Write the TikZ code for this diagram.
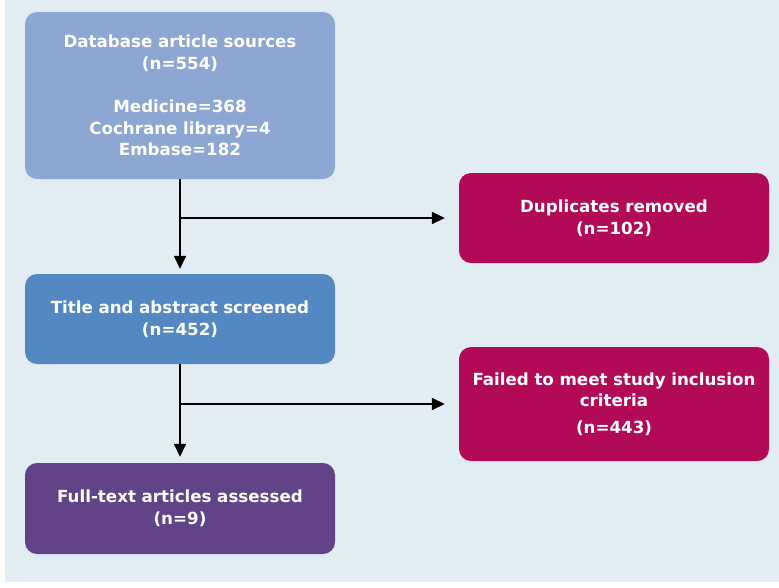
\documentclass[tikz,border=0pt]{standalone}
\usepackage{fontspec}
\setmainfont{DejaVu Sans}
\usetikzlibrary{arrows.meta}
\definecolor{bgc}{HTML}{E1ECF3}
\definecolor{boxa}{HTML}{8BA7D2}
\definecolor{boxb}{HTML}{5388C3}
\definecolor{boxc}{HTML}{634388}
\definecolor{boxr}{HTML}{B20A56}
\tikzset{
  flowbox/.style={rounded corners=12pt, minimum width=310pt, text width=300pt, align=center,
    text=white, font=\fontsize{16.7pt}{21.6pt}\selectfont\bfseries, inner sep=0pt},
  arr/.style={draw=black, line width=1.5pt, -{Triangle[length=13pt,width=12pt]}}
}
\begin{document}
\begin{tikzpicture}[x=1pt,y=-1pt]
\useasboundingbox (0,0) rectangle (779,587);
\fill[white] (0,0) rectangle (779,587);
\fill[bgc] (5,0) rectangle (779,582);
\node[flowbox, fill=boxa, minimum height=167pt] (src) at (180,95.5)
  {Database article sources\\(n=554)\\[21.6pt]Medicine=368\\Cochrane library=4\\Embase=182};
\node[flowbox, fill=boxb, minimum height=90pt] (scr) at (180,319)
  {Title and abstract screened\\(n=452)};
\node[flowbox, fill=boxc, minimum height=91pt] (full) at (180,508.5)
  {Full-text articles assessed\\(n=9)};
\node[flowbox, fill=boxr, minimum height=90pt] (dup) at (614,218)
  {Duplicates removed\\(n=102)};
\node[flowbox, fill=boxr, minimum height=114pt] (fail) at (614,404)
  {Failed to meet study inclusion\\criteria\\[5pt](n=443)};
\coordinate (j1) at (src.south |- dup.west);
\coordinate (j2) at (scr.south |- fail.west);
\draw[arr] (src.south) -- ([yshift=5pt]scr.north);
\draw[arr] (j1) -- ([xshift=-14pt]dup.west);
\draw[arr] (scr.south) -- ([yshift=6pt]full.north);
\draw[arr] (j2) -- ([xshift=-14pt]fail.west);
\end{tikzpicture}
\end{document}
